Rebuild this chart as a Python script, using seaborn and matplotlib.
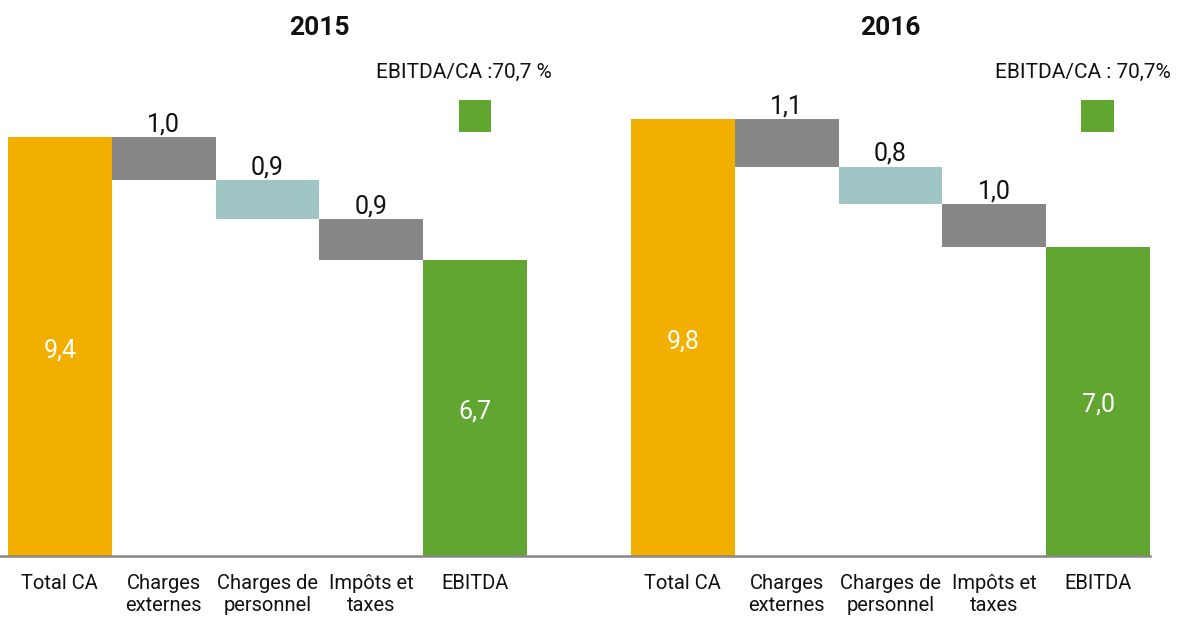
import matplotlib
matplotlib.use("Agg")
import matplotlib.pyplot as plt
from matplotlib import font_manager
from matplotlib.patches import Rectangle
import matplotlib.transforms as mtransforms
import seaborn as sns
import pandas as pd

# ---- data ----
categories = ["Total CA", "Charges\nexternes", "Charges de\npersonnel", "Impôts et\ntaxes", "EBITDA"]
years = ["2015", "2016"]
values_2015 = [9.43, 0.97, 0.88, 0.91, 6.67]
values_2016 = [9.84, 1.07, 0.84, 0.96, 6.97]
ratio_labels = ["EBITDA/CA :70,7 %", "EBITDA/CA : 70,7%"]
bar_colors = ["#F2AF00", "#878787", "#9FC5C4", "#878787", "#62A632"]

sns.set_theme(style="white")
avail = {f.name for f in font_manager.fontManager.ttflist}
fam = "Liberation Sans Narrow" if "Liberation Sans Narrow" in avail else "Roboto"
plt.rcParams["font.family"] = [fam, "DejaVu Sans"]

# ---- build waterfall table ----
rows = []
for yi, (yr, vals) in enumerate(zip(years, [values_2015, values_2016])):
    running = vals[0]
    for ci, (cat, v) in enumerate(zip(categories, vals)):
        pos = yi * (len(categories) + 1) + ci
        if ci == 0 or ci == len(categories) - 1:
            bottom = 0.0
        else:
            running -= v
            bottom = running
        rows.append(dict(pos=pos, key=f"{yr}|{ci}", value=v, bottom=bottom,
                         color=bar_colors[ci], cat=cat, year=yr, idx=ci))
df = pd.DataFrame(rows)

fig = plt.figure(figsize=(11.78, 6.17), dpi=100)
W, H = 1178, 617
ppu = 44.4
ylim_top = 11.0
ax = fig.add_axes([0, 61 / H, 1150 / W, ylim_top * ppu / H])

palette = dict(zip(df["key"], df["color"]))
sns.barplot(data=df, x="pos", y="value", hue="key", palette=palette,
            native_scale=True, width=1.0, dodge=False, legend=False,
            saturation=1, errorbar=None, linewidth=0, ax=ax)

# shift floating bars to their bottoms
bottoms = dict(zip(df["pos"], df["bottom"]))
for p in ax.patches:
    cx = p.get_x() + p.get_width() / 2
    key = min(bottoms, key=lambda k: abs(k - cx))
    p.set_y(bottoms[key])

ax.set_xlim(-0.5 - 8 / 104, 10.5)
ax.set_ylim(0, ylim_top)
ax.set_xlabel("")
ax.set_ylabel("")
ax.set_yticks([])
ax.set_xticks(df["pos"])
ax.set_xticklabels(df["cat"], fontsize=14.5, color="#111111", linespacing=1.2)
ax.tick_params(axis="x", length=0, pad=13)
for s in ["top", "left", "right"]:
    ax.spines[s].set_visible(False)
ax.spines["bottom"].set_color("#878787")
ax.spines["bottom"].set_linewidth(1.8)

# value labels
for r in df.itertuples():
    lab = f"{r.value:.1f}".replace(".", ",")
    if r.idx in (0, len(categories) - 1):
        ax.text(r.pos, r.value / 2 - 0.08, lab, ha="center", va="center",
                color="white", fontsize=18)
    else:
        ax.text(r.pos, r.bottom + r.value + 0.02, lab, ha="center", va="bottom",
                color="#111111", fontsize=18)

# titles, ratio texts and green squares
trans = mtransforms.blended_transform_factory(ax.transData, fig.transFigure)
title_x = [2.5, 8.0]
ratio_x = [3.89, 9.85]
for yi, yr in enumerate(years):
    ax.text(title_x[yi], 1 - 28 / H, yr, transform=trans, ha="center", va="center",
            fontsize=19, fontweight="bold", color="#111111")
    ax.text(ratio_x[yi], 1 - 72 / H, ratio_labels[yi], transform=trans,
            ha="center", va="center", fontsize=15, color="#111111")
    epos = df[(df["year"] == yr) & (df["idx"] == len(categories) - 1)]["pos"].iloc[0]
    ax.add_patch(Rectangle((epos - 0.16, 9.55), 0.317, 0.72, color="#62A632",
                           linewidth=0, clip_on=False))

fig.savefig("out.png", dpi=100)
